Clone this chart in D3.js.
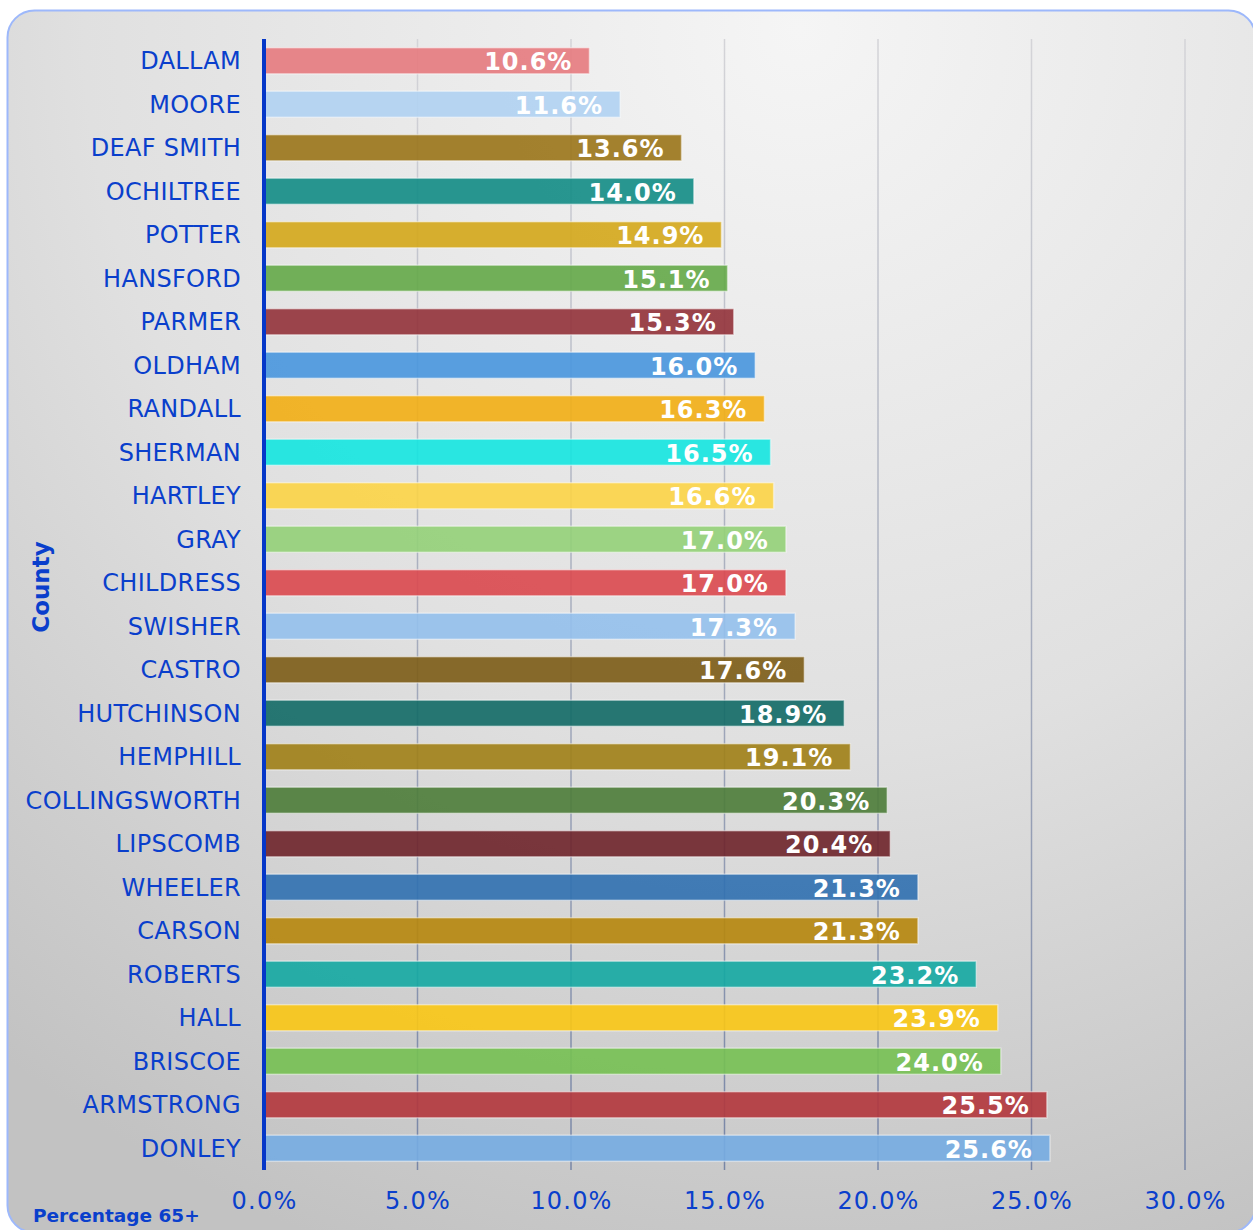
<!DOCTYPE html>
<html><head><meta charset="utf-8">
<script src="https://cdn.jsdelivr.net/npm/d3@7"></script>
<style>html,body{margin:0;padding:0;background:#fff;}svg{display:block;}</style>
</head><body>
<script>
const counties = ["DALLAM","MOORE","DEAF SMITH","OCHILTREE","POTTER","HANSFORD","PARMER","OLDHAM","RANDALL","SHERMAN","HARTLEY","GRAY","CHILDRESS","SWISHER","CASTRO","HUTCHINSON","HEMPHILL","COLLINGSWORTH","LIPSCOMB","WHEELER","CARSON","ROBERTS","HALL","BRISCOE","ARMSTRONG","DONLEY"];
const values = [10.6,11.6,13.6,14.0,14.9,15.1,15.3,16.0,16.3,16.5,16.6,17.0,17.0,17.3,17.6,18.9,19.1,20.3,20.4,21.3,21.3,23.2,23.9,24.0,25.5,25.6];
const colors = ["#e57a7e","#b0d2f2","#9a7418","#128c85","#d4a71a","#64a848","#92323a","#4896de","#f2ae14","#14e6e0","#fcd446","#94d078","#da484e","#94c0ec","#7c5c16","#126a66","#a08016","#4c7c38","#6e242a","#3070b0","#b6860c","#14a8a2","#fac614","#76c052","#b2363c","#76ace2"];
const xTicks = [0,5,10,15,20,25,30];
const xTitle = "Percentage 65+";
const yTitle = "County";

const W = 1253, H = 1230;
const FONT = "DejaVu Sans, Verdana, sans-serif";
const BLUE = "#0a3fcc";
const svg = d3.select("body").append("svg").attr("width", W).attr("height", H);
const defs = svg.append("defs");
const bg = defs.append("radialGradient").attr("id","bg").attr("gradientUnits","userSpaceOnUse")
  .attr("cx",800).attr("cy",30).attr("r",1300);
bg.append("stop").attr("offset","0").attr("stop-color","#f5f5f5");
bg.append("stop").attr("offset","0.55").attr("stop-color","#e0e0e0");
bg.append("stop").attr("offset","1").attr("stop-color","#c2c2c2");
const gl = defs.append("linearGradient").attr("id","gl").attr("gradientUnits","userSpaceOnUse").attr("x1",0).attr("y1",40).attr("x2",0).attr("y2",1170);
gl.append("stop").attr("offset","0").attr("stop-color","#d4d4d8");
gl.append("stop").attr("offset","0.5").attr("stop-color","#a8aebe");
gl.append("stop").attr("offset","1").attr("stop-color","#7886a6");

svg.append("rect").attr("x",7.5).attr("y",10.5).attr("width",1248).attr("height",1222).attr("rx",27)
  .attr("fill","url(#bg)").attr("stroke","#9db8fb").attr("stroke-width",2);

const x = d3.scaleLinear().domain([0,30]).range([264,1185]);
const y = d3.scaleBand().domain(counties).range([39,1170]).paddingInner(0.4).paddingOuter(0.2);

// gridlines
svg.append("g").selectAll("line").data(xTicks.filter(d=>d>0)).join("line")
  .attr("x1",d=>x(d)).attr("x2",d=>x(d)).attr("y1",39).attr("y2",1170)
  .attr("stroke","url(#gl)").attr("stroke-width",1.5);

// bars
svg.append("g").selectAll("rect").data(counties).join("rect")
  .attr("x",x(0)).attr("y",d=>y(d)).attr("width",(d,i)=>x(values[i])-x(0)).attr("height",y.bandwidth())
  .attr("fill",(d,i)=>colors[i]).attr("fill-opacity",0.9)
  .attr("stroke","rgba(255,255,255,0.45)").attr("stroke-width",1.5);

// value labels
svg.append("g").selectAll("text").data(counties).join("text")
  .attr("x",(d,i)=>x(values[i])-17).attr("y",d=>y(d)+y.bandwidth()/2+1)
  .attr("dy","0.36em").attr("text-anchor","end")
  .attr("font-family",FONT).attr("font-weight","bold").attr("font-size",24).attr("letter-spacing",1)
  .attr("fill","#fff").text((d,i)=>values[i].toFixed(1)+"%");

// y axis
const yAxis = svg.append("g").attr("transform",`translate(${x(0)},0)`)
  .call(d3.axisLeft(y).tickSize(0).tickPadding(23));
yAxis.select(".domain").remove();
yAxis.selectAll("text").attr("font-family",FONT).attr("font-size",24).attr("letter-spacing",0.3).attr("fill",BLUE).attr("dy","0.36em");
svg.append("line").attr("x1",x(0)).attr("x2",x(0)).attr("y1",39).attr("y2",1170).attr("stroke","#0537c8").attr("stroke-width",4);

// x axis
const xAxis = svg.append("g").attr("transform","translate(0,1170)")
  .call(d3.axisBottom(x).tickValues(xTicks).tickSize(0).tickPadding(22).tickFormat(d=>d.toFixed(1)+"%"));
xAxis.select(".domain").remove();
xAxis.selectAll("text").attr("font-family",FONT).attr("font-size",24).attr("letter-spacing",1.2).attr("fill",BLUE);

svg.append("text").attr("transform","translate(49,587) rotate(-90)").attr("text-anchor","middle")
  .attr("font-family",FONT).attr("font-weight","bold").attr("font-size",23).attr("fill",BLUE).text(yTitle);
svg.append("text").attr("x",33).attr("y",1222)
  .attr("font-family",FONT).attr("font-weight","bold").attr("font-size",18.5).attr("fill",BLUE).text(xTitle);
</script>
</body></html>
